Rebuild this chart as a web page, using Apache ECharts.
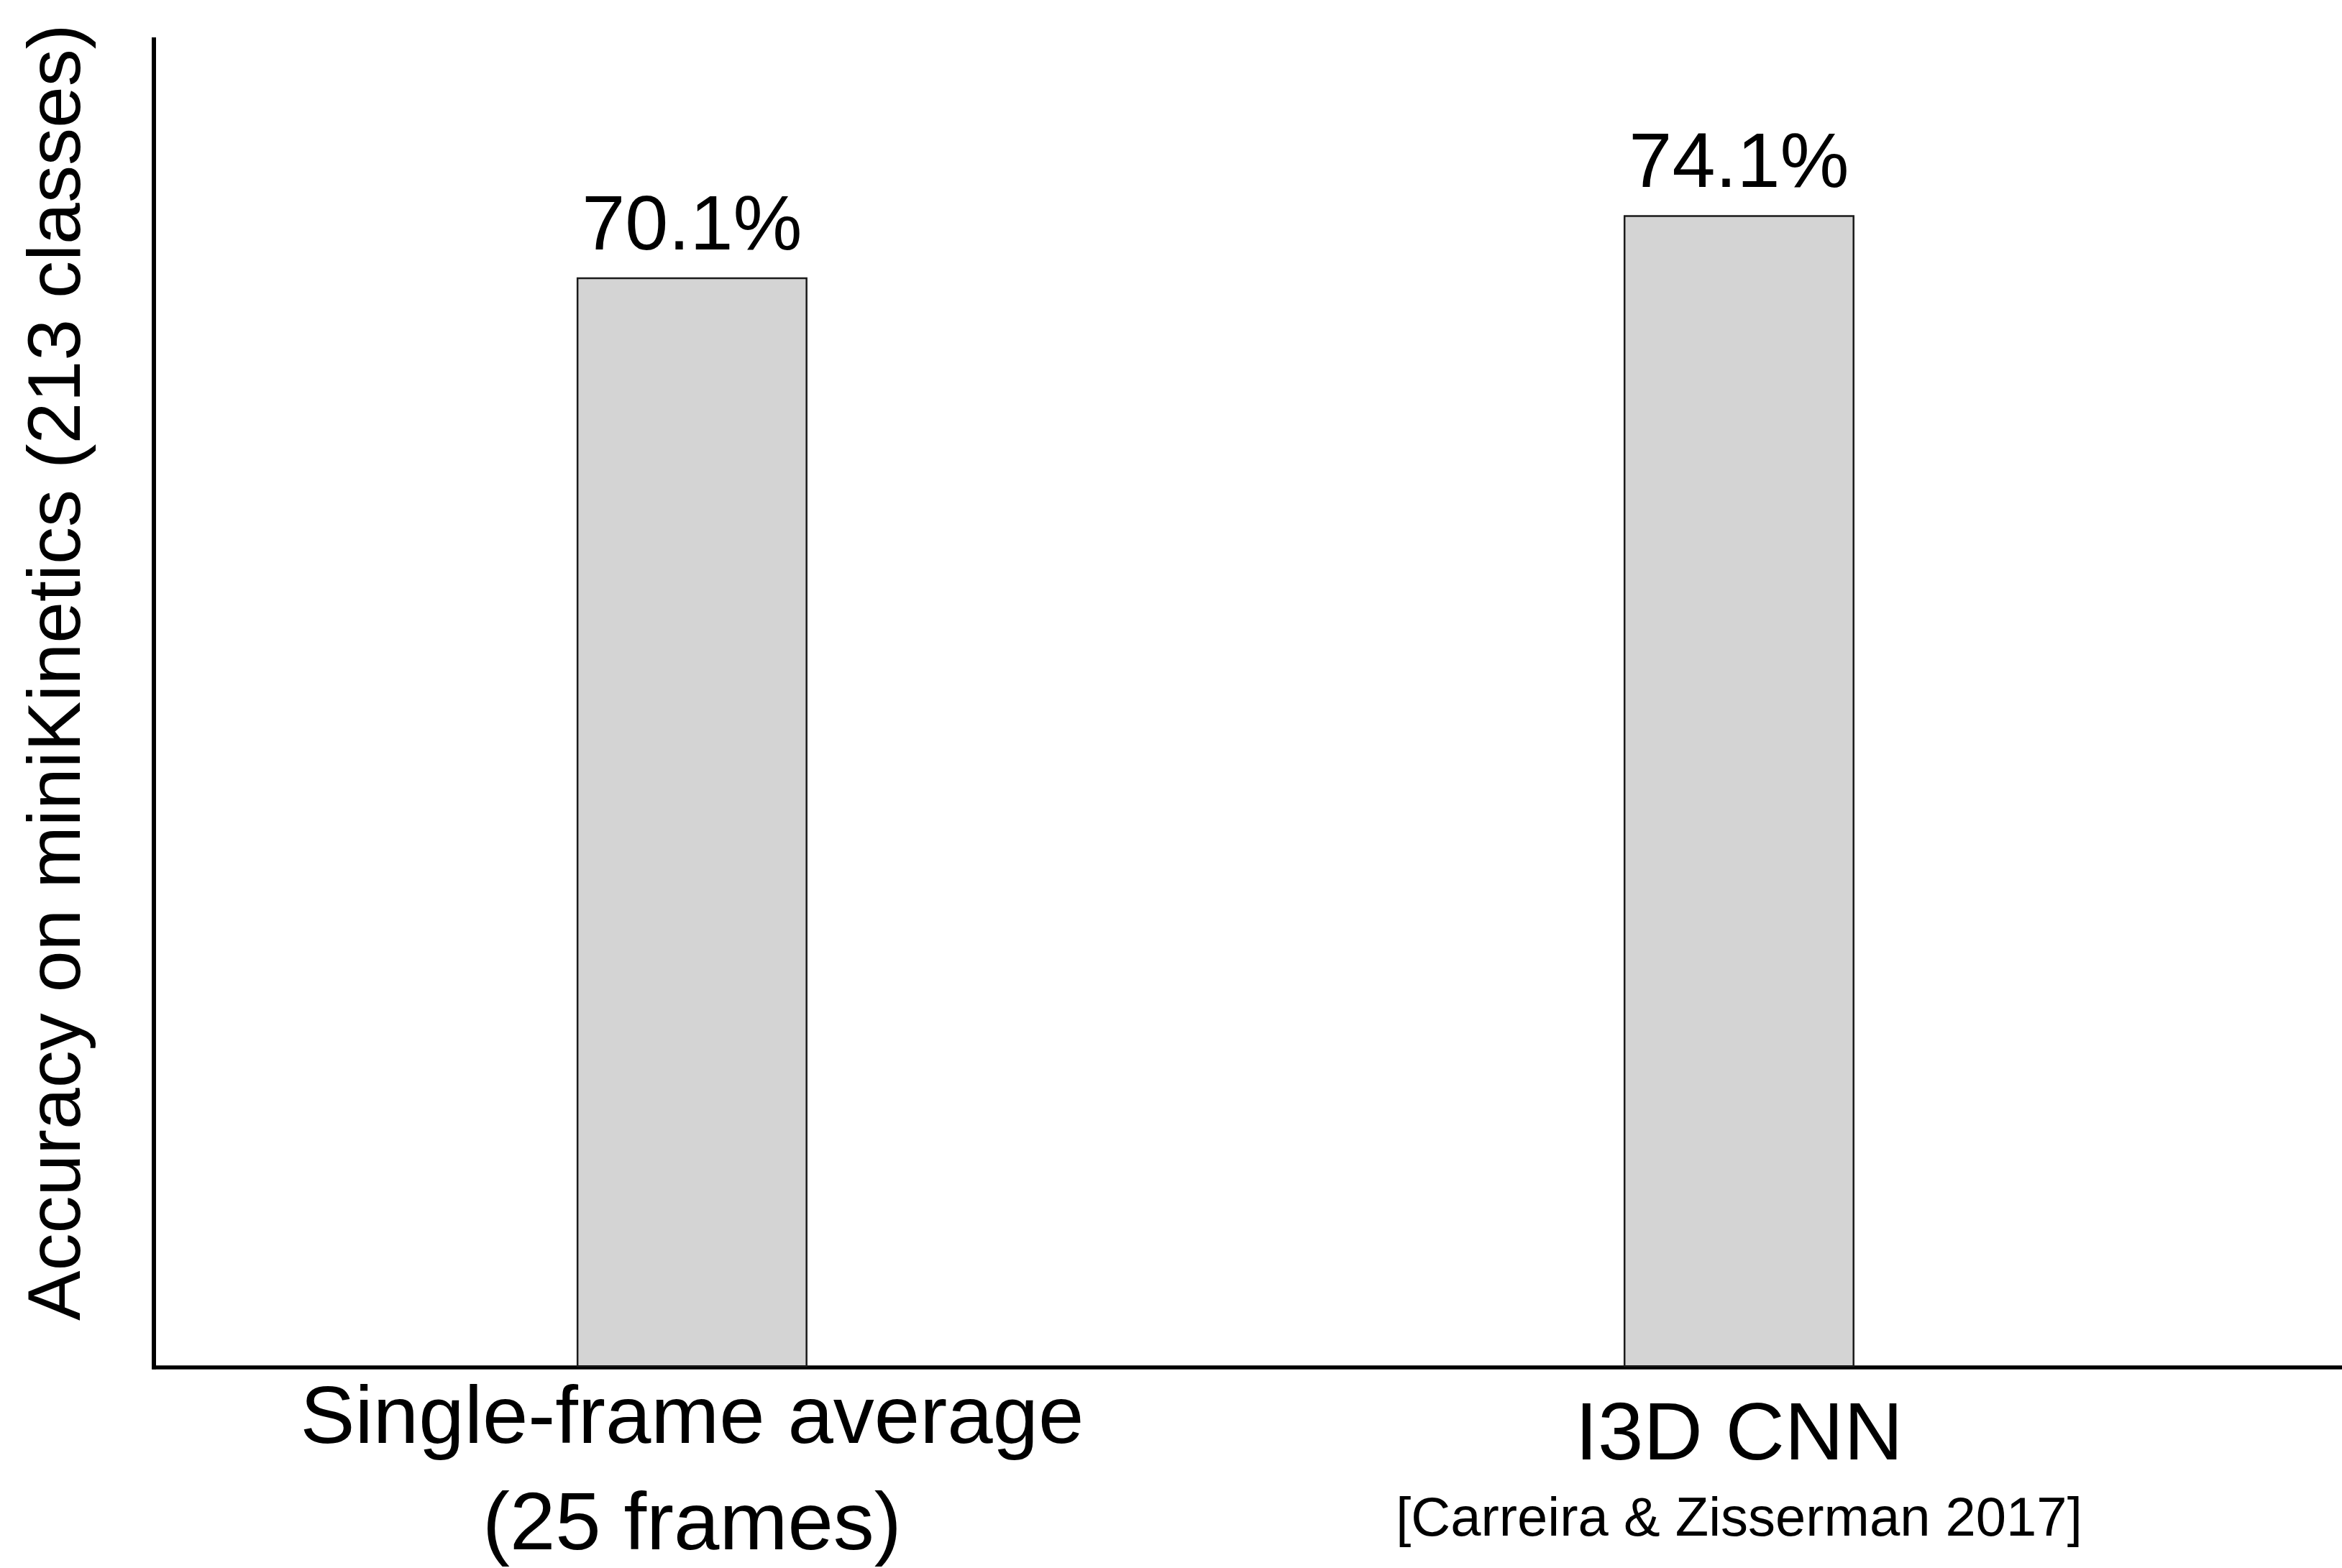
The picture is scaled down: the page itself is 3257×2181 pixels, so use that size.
<!DOCTYPE html>
<html>
<head>
<meta charset="utf-8">
<title>Accuracy on miniKinetics</title>
<script src="https://cdn.jsdelivr.net/npm/echarts@6/dist/echarts.min.js"></script>
<style>
  html, body { margin: 0; padding: 0; background: #ffffff; }
  #chart { width: 3257px; height: 2181px; }
</style>
</head>
<body>
<div id="chart"></div>
<script>
// Models compared and their top-1 accuracy (%)
const modelNames = ['Single-frame average', 'I3D CNN'];
const modelNotes = ['(25 frames)', '[Carreira & Zisserman 2017]'];
const accuracy = [70.1, 74.1];
const modelPositions = [0, 1];

const FONT = '"Liberation Sans", Arial, Helvetica, sans-serif';

const chart = echarts.init(document.getElementById('chart'), null, { renderer: 'canvas' });

const barData = modelPositions.map((x, i) => [x, accuracy[i]]);

chart.setOption({
  backgroundColor: '#ffffff',
  animation: false,
  grid: { left: 214, right: 0, top: 55, bottom: 279.5, containLabel: false },
  xAxis: {
    type: 'value',
    min: -0.514,
    max: 1.5759,
    splitLine: { show: false },
    axisTick: { show: false },
    axisLine: { show: true, onZero: false, lineStyle: { color: '#000', width: 5.5, cap: 'square' } },
    axisLabel: {
      show: true,
      customValues: modelPositions,
      margin: 0,
      hideOverlap: false,
      formatter: function (v) {
        const i = Math.round(v);
        return i === 0
          ? '{a|' + modelNames[0] + '}\n{a|' + modelNotes[0] + '}'
          : '{b|' + modelNames[1] + '}\n{c|' + modelNotes[1] + '}';
      },
      rich: {
        a: { fontFamily: FONT, fontSize: 114, lineHeight: 148, color: '#000' },
        b: { fontFamily: FONT, fontSize: 114, lineHeight: 194, color: '#000' },
        c: { fontFamily: FONT, fontSize: 76, lineHeight: 40, color: '#000' }
      }
    }
  },
  yAxis: {
    type: 'value',
    min: 0,
    max: 85.4,
    name: 'Accuracy on miniKinetics (213 classes)',
    nameLocation: 'middle',
    nameGap: 132,
    nameRotate: 90,
    nameTextStyle: {
      fontFamily: FONT,
      fontSize: 104,
      color: '#000',
      verticalAlign: 'middle',
      lineHeight: 104,
      padding: [0, 0, 0, 86]
    },
    splitLine: { show: false },
    axisTick: { show: false },
    axisLabel: { show: false },
    axisLine: { show: true, onZero: false, lineStyle: { color: '#000', width: 6, cap: 'square' } }
  },
  series: [{
    type: 'bar',
    data: barData,
    barWidth: 321,
    itemStyle: { color: '#d4d4d4', borderColor: '#1a1a1a', borderWidth: 2.5 },
    label: {
      show: true,
      position: 'top',
      distance: 15,
      fontFamily: FONT,
      fontSize: 108,
      lineHeight: 108,
      color: '#000',
      formatter: function (p) { return p.value[1].toFixed(1) + '%'; }
    }
  }]
});
</script>
</body>
</html>
